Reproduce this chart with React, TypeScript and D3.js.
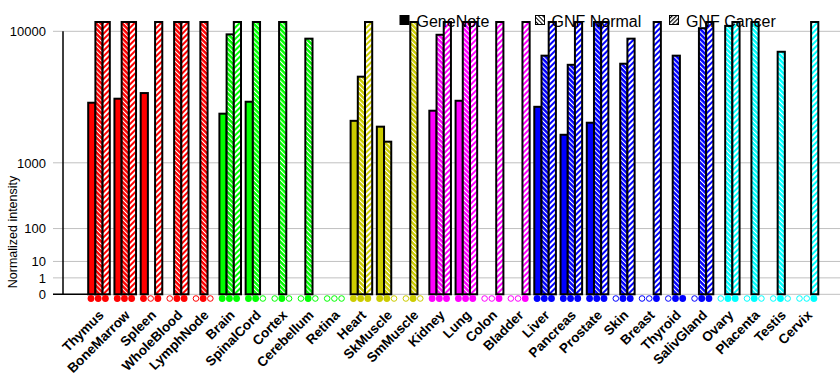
import React from 'react'
import * as d3 from 'd3'

// tissues along the x axis
const tissues = ['Thymus', 'BoneMarrow', 'Spleen', 'WholeBlood', 'LymphNode', 'Brain', 'SpinalCord', 'Cortex',
  'Cerebellum', 'Retina', 'Heart', 'SkMuscle', 'SmMuscle', 'Kidney', 'Lung', 'Colon', 'Bladder', 'Liver',
  'Pancreas', 'Prostate', 'Skin', 'Breast', 'Thyroid', 'SalivGland', 'Ovary', 'Placenta', 'Testis', 'Cervix']

// colour group of every tissue
const tissueColors = ['#ff0000', '#ff0000', '#ff0000', '#ff0000', '#ff0000',
  '#00ff00', '#00ff00', '#00ff00', '#00ff00', '#00ff00',
  '#cccc00', '#cccc00', '#cccc00',
  '#ff00ff', '#ff00ff', '#ff00ff', '#ff00ff',
  '#0000ff', '#0000ff', '#0000ff', '#0000ff', '#0000ff', '#0000ff', '#0000ff',
  '#00ffff', '#00ffff', '#00ffff', '#00ffff']

const series = ['GeneNote', 'GNF Normal', 'GNF Cancer']

// values above the top of the axis are cut off
const geneNote = [3490, 3740, 4110, 0, 0, 2870, 3550, 0, 0, 0, 2510, 2240, 0, 3030, 3610, 0, 0, 3250, 1900, 2420, 0, 0, 0, 0, 0, 0, 0, 0]
const gnfNormal = [12000, 12000, 0, 12000, 12000, 9620, 12000, 12000, 9100, 0, 5330, 1640, 12000, 9570, 12000, 0, 0, 7240, 6360, 12000, 6460, 0, 7240, 10400, 10700, 12000, 7640, 0]
const gnfCancer = [12000, 12000, 12000, 12000, 0, 12000, 0, 0, 0, 0, 12000, 0, 0, 12000, 12000, 12000, 12000, 12000, 12000, 12000, 9100, 12000, 0, 12000, 12000, 0, 0, 12000]

// 1 = measured (filled marker), 0 = missing (open marker)
const geneNoteFound = [1, 1, 1, 0, 0, 1, 1, 0, 0, 0, 1, 1, 0, 1, 1, 0, 0, 1, 1, 1, 0, 0, 0, 0, 0, 0, 0, 0]
const gnfNormalFound = [1, 1, 0, 1, 1, 1, 1, 1, 1, 0, 1, 1, 1, 1, 1, 0, 0, 1, 1, 1, 1, 0, 1, 1, 1, 1, 1, 0]
const gnfCancerFound = [1, 1, 1, 1, 0, 1, 0, 0, 0, 0, 1, 0, 0, 1, 1, 1, 1, 1, 1, 1, 1, 1, 1, 1, 1, 0, 0, 1]

const yTicks = [0, 1, 10, 100, 1000, 10000]

const W = 840
const H = 385
const axisX = 63
const baseY = 294.3

export default function App() {
  const values = [geneNote, gnfNormal, gnfCancer]
  const found = [geneNoteFound, gnfNormalFound, gnfCancerFound]
  const colors = Array.from(new Set(tissueColors))

  // x: one point per tissue, sub band per series
  const x = d3.scalePoint<string>().domain(tissues).range([99, 807.5])
  const xSub = d3.scaleBand<string>().domain(series).range([-10.8, 10.8])

  // y: power scale, every decade doubles the height
  const y = d3.scalePow().exponent(Math.log10(2)).domain([0, 11225]).range([baseY, 22]).clamp(true)

  const fillFor = (s: number, c: string) => {
    const id = c.slice(1)
    if (s === 0) return c
    if (s === 1) return `url(#norm-${id})`
    return `url(#canc-${id})`
  }

  return (
    <svg width={W} height={H} style={{ position: 'absolute', left: 0, top: 0, background: '#fff' }}
      fontFamily="'Liberation Sans', Arial, sans-serif">
      <defs>
        {colors.map(c => (
          <React.Fragment key={c}>
            <pattern id={`norm-${c.slice(1)}`} width={3.5} height={3.5} patternUnits="userSpaceOnUse" patternTransform="rotate(-45)">
              <rect width={3.5} height={3.5} fill={c} />
              <rect width={1} height={3.5} fill="#fff" />
            </pattern>
            <pattern id={`canc-${c.slice(1)}`} width={4} height={4} patternUnits="userSpaceOnUse" patternTransform="rotate(45)">
              <rect width={4} height={4} fill={c} />
              <rect width={2} height={4} fill="#fff" />
            </pattern>
          </React.Fragment>
        ))}
        <pattern id="norm-legend" width={3} height={3} patternUnits="userSpaceOnUse" patternTransform="rotate(-45)">
          <rect width={3} height={3} fill="#fff" />
          <rect width={1} height={3} fill="#000" />
        </pattern>
        <pattern id="canc-legend" width={3} height={3} patternUnits="userSpaceOnUse" patternTransform="rotate(45)">
          <rect width={3} height={3} fill="#fff" />
          <rect width={1.2} height={3} fill="#000" />
        </pattern>
      </defs>

      {/* grid */}
      {yTicks.map(t => (
        <line key={t} x1={53} x2={W} y1={y(t)} y2={y(t)} stroke="#c0c0c0" strokeWidth={1} />
      ))}
      <line x1={53} x2={88} y1={baseY} y2={baseY} stroke="#000" strokeWidth={1.5} />
      <line x1={axisX} x2={axisX} y1={y(10000)} y2={baseY} stroke="#000" strokeWidth={1.5} />
      {yTicks.map(t => (
        <text key={t} x={46} y={y(t) + 4.7} textAnchor="end" fontSize={13}>{t}</text>
      ))}
      <text transform={`translate(17,232) rotate(-90)`} textAnchor="middle" fontSize={12.5}>Normalized intensity</text>

      {/* bars */}
      {tissues.map((t, i) => (
        <g key={t} transform={`translate(${x(t)},0)`}>
          {series.map((s, k) => (
            <rect key={s} x={xSub(s)} y={y(values[k][i])} width={xSub.bandwidth()}
              height={baseY - y(values[k][i])} fill={fillFor(k, tissueColors[i])} stroke="#000" strokeWidth={2} />
          ))}
          {series.map((s, k) => (
            found[k][i]
              ? <circle key={s} cx={xSub(s)! + xSub.bandwidth() / 2 - 0.8} cy={298.5} r={3.4} fill={tissueColors[i]} />
              : <circle key={s} cx={xSub(s)! + xSub.bandwidth() / 2 - 0.8} cy={298.5} r={2.8} fill="#fff" stroke={tissueColors[i]} strokeWidth={1} />
          ))}
          <text transform={`translate(5.5,316) rotate(-45)`} textAnchor="end" fontSize={13.5} fontWeight="bold">{t}</text>
        </g>
      ))}

      {/* legend */}
      <rect x={399.5} y={15} width={10} height={10} fill="#000" />
      <text x={416.5} y={27} fontSize={16}>GeneNote</text>
      <rect x={535.5} y={15.5} width={9} height={9} fill="url(#norm-legend)" stroke="#000" strokeWidth={1} />
      <text x={551.5} y={27} fontSize={16}>GNF Normal</text>
      <rect x={669.5} y={15.5} width={9} height={9} fill="url(#canc-legend)" stroke="#000" strokeWidth={1} />
      <text x={686} y={27} fontSize={16}>GNF Cancer</text>
    </svg>
  )
}
